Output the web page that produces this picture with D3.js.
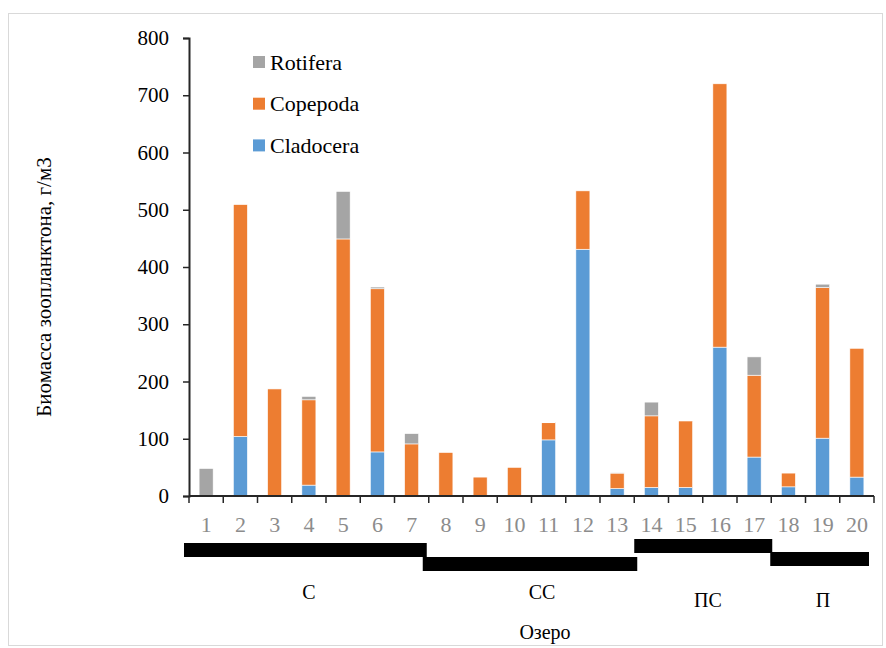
<!DOCTYPE html>
<html>
<head>
<meta charset="utf-8">
<script src="https://cdn.jsdelivr.net/npm/d3@7"></script>
<style>
  body { margin: 0; background: #fff; }
  svg text { font-family: "Liberation Serif", "Times New Roman", serif !important; }
</style>
</head>
<body>
<script>
// lake numbers and biomass (g/m3) by group
var lakes = ["1","2","3","4","5","6","7","8","9","10","11","12","13","14","15","16","17","18","19","20"];
var cladocera = [0,104,0,19,0,77,0,0,0,0,98,431,13,15,15,260,68,16,101,33];
var copepoda  = [0,405,187,149,449,285,91,76,33,50,30,102,27,125,116,460,143,24,263,225];
var rotifera  = [48,0,0,6,83,3,18,0,0,0,1,0,1,24,0,0,32,0,6,0];
var yTicks = [0,100,200,300,400,500,600,700,800];

// lake groups
var groupNames = ["С","СС","ПС","П"];
var groupFirst = [1,8,14,18];
var groupLast  = [7,13,17,20];

var seriesNames  = ["Cladocera","Copepoda","Rotifera"];
var seriesColors = ["#5B9BD5","#ED7D31","#A5A5A5"];

var W = 886, H = 648;
var plotLeft = 189, plotRight = 874, plotTop = 38, plotBottom = 496;
var serif = "Liberation Serif";

var svg = d3.select("body").append("svg").attr("width", W).attr("height", H);

// outer chart border
svg.append("rect").attr("x", 8.5).attr("y", 13.5).attr("width", 874).attr("height", 632)
  .attr("fill", "#fff").attr("stroke", "#d9d9d9").attr("stroke-width", 1);

var table = lakes.map(function(d, i) {
  return {lake: d, Cladocera: cladocera[i], Copepoda: copepoda[i], Rotifera: rotifera[i]};
});
var stacked = d3.stack().keys(seriesNames)(table);

var x = d3.scaleBand().domain(lakes).range([plotLeft, plotRight]).paddingInner(0.59).paddingOuter(0.295);
var y = d3.scaleLinear().domain([0, 800]).range([plotBottom, plotTop]);
var step = x.step();

// bars
svg.selectAll("g.layer").data(stacked).enter().append("g")
  .attr("class", "layer")
  .attr("fill", function(d, i) { return seriesColors[i]; })
  .selectAll("rect").data(function(d) { return d.filter(function(e) { return e[1] - e[0] > 0; }); })
  .enter().append("rect")
    .attr("x", function(d) { return x(d.data.lake); })
    .attr("y", function(d) { return y(d[1]); })
    .attr("width", x.bandwidth())
    .attr("height", function(d) { return y(d[0]) - y(d[1]); })
    .attr("stroke", "#fff").attr("stroke-width", 0.6);

// y axis
var yAxis = svg.append("g").attr("transform", "translate(" + plotLeft + ",0)")
  .call(d3.axisLeft(y).tickValues(yTicks).tickSize(6).tickPadding(14));
yAxis.attr("font-family", serif);
yAxis.select(".domain").attr("stroke", "#262626").attr("stroke-width", 2);
yAxis.selectAll(".tick line").attr("stroke", "#262626").attr("stroke-width", 1.5);
yAxis.selectAll(".tick text").attr("font-size", 21).attr("fill", "#000");

// x axis: ticks at category boundaries
var bounds = d3.range(lakes.length + 1).map(function(i) { return plotLeft + i * step; });
svg.append("line").attr("x1", plotLeft).attr("x2", plotRight).attr("y1", plotBottom).attr("y2", plotBottom)
  .attr("stroke", "#262626").attr("stroke-width", 2);
svg.selectAll("line.xt").data(bounds).enter().append("line").attr("class", "xt")
  .attr("x1", function(d) { return d; }).attr("x2", function(d) { return d; })
  .attr("y1", plotBottom).attr("y2", plotBottom + 7)
  .attr("stroke", "#262626").attr("stroke-width", 1.5);
svg.selectAll("text.xl").data(lakes).enter().append("text").attr("class", "xl")
  .attr("x", function(d) { return x(d) + x.bandwidth() / 2; })
  .attr("y", 532)
  .attr("text-anchor", "middle").attr("font-family", serif).attr("font-size", 22).attr("fill", "#8c8c8c")
  .text(function(d) { return d; });

// group bars under the axis (hand-placed in the original, hence the nudges)
var groupBarTop = [543, 557, 539, 552];
var groupStartNudge = [-5, -6, 0, -1];
var groupEndNudge = [-2, 3, 1, -5];
var groupLabelY = [599, 599, 607, 607];
var groupLabelX = [309, 542, 708, 823];
groupNames.forEach(function(g, i) {
  var x0 = x(lakes[groupFirst[i] - 1]) - x.paddingOuter() * step + groupStartNudge[i];
  var x1 = x(lakes[groupLast[i] - 1]) + x.bandwidth() + x.paddingOuter() * step + groupEndNudge[i];
  svg.append("rect").attr("x", x0).attr("y", groupBarTop[i])
    .attr("width", x1 - x0).attr("height", 14).attr("fill", "#000");
  svg.append("text").attr("x", groupLabelX[i]).attr("y", groupLabelY[i])
    .attr("text-anchor", "middle").attr("font-family", serif).attr("font-size", 20)
    .attr("fill", "#000").text(g);
});

// axis titles
svg.append("text").attr("x", 545).attr("y", 639).attr("text-anchor", "middle")
  .attr("font-family", serif).attr("font-size", 20).text("Озеро");
svg.append("text").attr("transform", "translate(51,287) rotate(-90)")
  .attr("text-anchor", "middle").attr("font-family", serif).attr("font-size", 21)
  .text("Биомасса зоопланктона, г/м3");

// legend (reverse order, top = Rotifera)
var legendOrder = [2, 1, 0];
legendOrder.forEach(function(s, i) {
  var cy = 62 + i * 41.7;
  svg.append("rect").attr("x", 253).attr("y", cy - 6).attr("width", 12).attr("height", 12)
    .attr("fill", seriesColors[s]);
  svg.append("text").attr("x", 270).attr("y", cy + 7.5).attr("font-family", serif).attr("font-size", 22)
    .attr("fill", "#000").text(seriesNames[s]);
});
</script>
</body>
</html>
